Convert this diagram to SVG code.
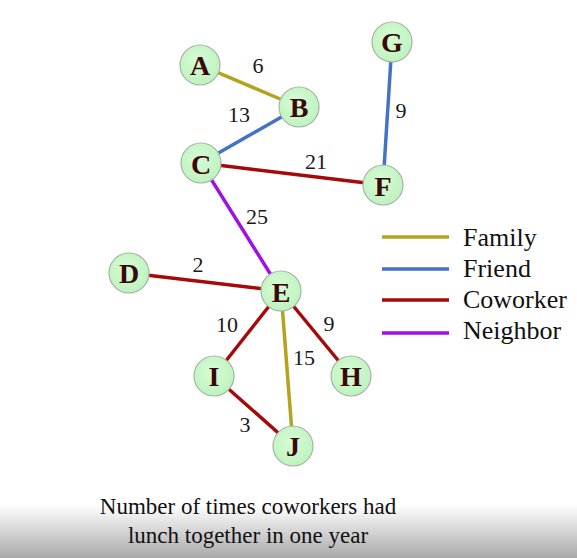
<svg xmlns="http://www.w3.org/2000/svg" width="577" height="558" viewBox="0 0 577 558">
<defs>
<linearGradient id="bg" x1="0" y1="0" x2="0" y2="1">
<stop offset="0" stop-color="#ffffff"/>
<stop offset="1" stop-color="#a9a9a9"/>
</linearGradient>
<radialGradient id="nf" cx="0.45" cy="0.4" r="0.6">
<stop offset="0" stop-color="#d6fcd6"/>
<stop offset="1" stop-color="#bff2bf"/>
</radialGradient>
</defs>
<style>
.n circle{fill:url(#nf);stroke:#a4b4a4;stroke-width:1.2}
.n text{font-family:"Liberation Serif","DejaVu Serif",serif;font-weight:bold;font-size:28px;fill:#3a0808;text-anchor:middle}
.e{stroke-width:3.5;fill:none}
.fam{stroke:#b5a21e}
.fri{stroke:#4472c4}
.cow{stroke:#a50a0a}
.nei{stroke:#a010e0}
.w{font-family:"Liberation Serif","DejaVu Serif",serif;font-size:22px;fill:#1a1a1a;text-anchor:middle}
.lg{font-family:"Liberation Serif","DejaVu Serif",serif;font-size:26px;fill:#111}
.cap{font-family:"Liberation Serif","DejaVu Serif",serif;font-size:23px;fill:#111;text-anchor:middle}
</style>
<rect width="577" height="558" fill="#ffffff"/>
<rect x="0" y="505" width="577" height="53" fill="url(#bg)"/>
<g id="connectors">
<line class="e fam" x1="200" y1="65" x2="299" y2="107"/>
<line class="e fri" x1="299" y1="107" x2="201" y2="163"/>
<line class="e cow" x1="201" y1="163" x2="383" y2="185"/>
<line class="e fri" x1="392" y1="42" x2="383" y2="185"/>
<line class="e nei" x1="201" y1="163" x2="281" y2="291"/>
<line class="e cow" x1="129" y1="273" x2="281" y2="291"/>
<line class="e cow" x1="281" y1="291" x2="214" y2="376"/>
<line class="e cow" x1="281" y1="291" x2="351" y2="376"/>
<line class="e fam" x1="281" y1="291" x2="293" y2="446"/>
<line class="e cow" x1="214" y1="376" x2="293" y2="446"/>
</g>
<g id="weights">
<text class="w" x="258" y="73">6</text>
<text class="w" x="239" y="122">13</text>
<text class="w" x="401" y="118">9</text>
<text class="w" x="316" y="169">21</text>
<text class="w" x="257" y="224">25</text>
<text class="w" x="198" y="272">2</text>
<text class="w" x="227" y="332">10</text>
<text class="w" x="329" y="331">9</text>
<text class="w" x="304" y="365">15</text>
<text class="w" x="245" y="432">3</text>
</g>
<g id="A" class="n"><circle cx="200" cy="65" r="20"/><text x="200" y="75">A</text></g>
<g id="B" class="n"><circle cx="299" cy="107" r="20"/><text x="299" y="117">B</text></g>
<g id="C" class="n"><circle cx="201" cy="163" r="20"/><text x="201" y="174">C</text></g>
<g id="F" class="n"><circle cx="383" cy="185" r="20"/><text x="383" y="196">F</text></g>
<g id="G" class="n"><circle cx="392" cy="42" r="20"/><text x="392" y="52">G</text></g>
<g id="D" class="n"><circle cx="129" cy="273" r="20"/><text x="129" y="283">D</text></g>
<g id="E" class="n"><circle cx="281" cy="291" r="20"/><text x="281" y="302">E</text></g>
<g id="I" class="n"><circle cx="214" cy="376" r="20"/><text x="214" y="386">I</text></g>
<g id="H" class="n"><circle cx="351" cy="376" r="20"/><text x="351" y="386">H</text></g>
<g id="J" class="n"><circle cx="293" cy="446" r="20"/><text x="293" y="456">J</text></g>
<g id="legend">
<line class="e fam" x1="382" y1="237" x2="449" y2="237"/>
<line class="e fri" x1="382" y1="269" x2="449" y2="269"/>
<line class="e cow" x1="382" y1="300" x2="449" y2="300"/>
<line class="e nei" x1="382" y1="333" x2="449" y2="333"/>
<text class="lg" x="463" y="246">Family</text>
<text class="lg" x="463" y="277">Friend</text>
<text class="lg" x="463" y="308">Coworker</text>
<text class="lg" x="463" y="339">Neighbor</text>
</g>
<g id="caption">
<text class="cap" x="248" y="514">Number of times coworkers had</text>
<text class="cap" x="248" y="543">lunch together in one year</text>
</g>
</svg>
